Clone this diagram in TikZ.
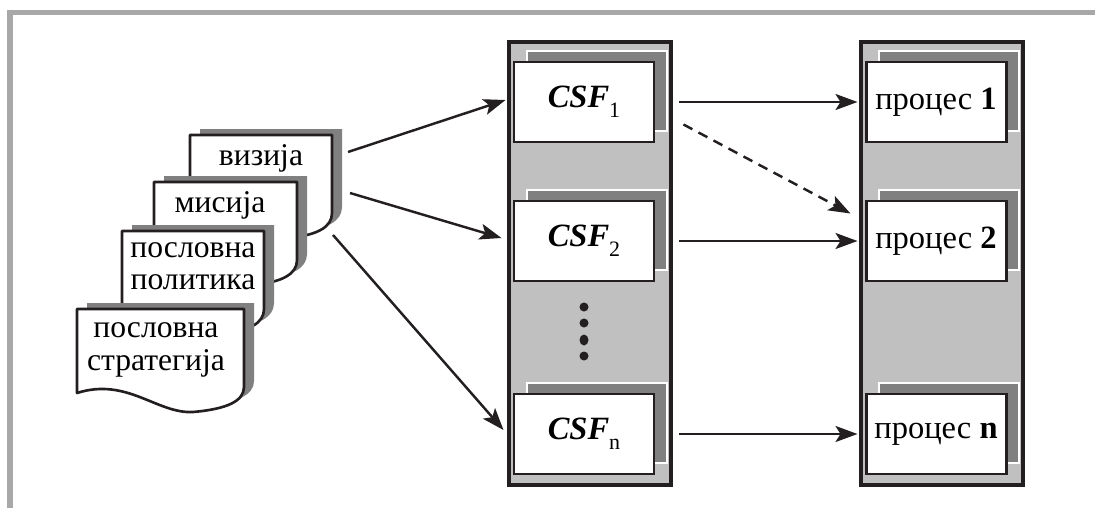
\documentclass[tikz,border=0pt]{standalone}
\usepackage{fontspec}
\setmainfont{Liberation Serif}
\usetikzlibrary{arrows.meta, positioning, shadows}
\definecolor{inkblack}{RGB}{35,31,32}
\definecolor{panelgray}{RGB}{192,192,192}
\definecolor{shadegray}{RGB}{128,128,128}
\definecolor{framegray}{RGB}{168,168,168}

% sheet of paper with a wavy lower edge: #1,#2 top left corner, #3 width
\newcommand{\docsheet}[3]{%
  \fill[shadegray, shift={(#1+0.2,#2+0.12)}, xscale=#3]
    (0,-1.68) .. controls (0.3,-1.36) and (0.48,-2.1) .. (0.695,-2.06)
    .. controls (0.9,-2.0) and (1,-1.84) .. (1,-1.56) -- (1,0) -- (0,0) -- cycle;
  \filldraw[fill=white, draw=inkblack, line width=1.5pt, line join=round, shift={(#1,#2)}, xscale=#3]
    (0,-1.68) .. controls (0.3,-1.36) and (0.48,-2.1) .. (0.695,-2.06)
    .. controls (0.9,-2.0) and (1,-1.84) .. (1,-1.56) -- (1,0) -- (0,0) -- cycle;
}
\newcommand{\csfname}[1]{\textbf{\textit{CSF}}\raisebox{-5.5pt}{\fontsize{12.5}{12.5}\selectfont #1}}

\tikzset{
  column/.style={draw=inkblack, fill=panelgray, line width=1.8pt, minimum width=3.24cm, minimum height=8.86cm, inner sep=0pt},
  box/.style={draw=inkblack, fill=white, line width=1.7pt, minimum width=2.8cm, minimum height=1.6cm, inner sep=0pt,
    copy shadow={shadow xshift=0.26cm, shadow yshift=0.22cm, fill=shadegray, draw=white, line width=0.8pt}},
  csfbox/.style={box, font=\fontsize{18.5}{20}\selectfont},
  procbox/.style={box, font=\fontsize{18.5}{20}\selectfont},
  doctext/.style={font=\fontsize{18}{18.5}\selectfont, align=center, inner sep=0pt},
  arr/.style={draw=inkblack, line width=1.4pt, -{Stealth[length=0.44cm, width=0.32cm, inset=0.1cm]}},
  dasharr/.style={arr, dash pattern=on 0.2cm off 0.14cm}
}

\begin{document}
\begin{tikzpicture}[scale=1.0]
        \useasboundingbox (0,0) rectangle (21.9,-10.16);

        % Frame
        \draw[framegray, line width=0.1cm] (0.2,-10.16) -- (0.2,-0.25) -- (21.9,-0.25);

        % Columns
        \node[column] (csfcol) at (11.8,-5.27) {};
        \node[column] (proccol) at (18.84,-5.27) {};

        % Critical success factors
        \node[csfbox] (csf1) at (11.68,-2.04) {\csfname{1}};
        \node[csfbox] (csf2) at (11.68,-4.82) {\csfname{2}};
        \node[csfbox] (csfn) at (11.68,-8.68) {\csfname{n}};

        % Dots
        \fill[inkblack] (11.68,-6.14) circle (0.09);
        \fill[inkblack] (11.68,-6.46) circle (0.09);
        \fill[inkblack] (11.68,-6.8) ellipse (0.09 and 0.11);
        \fill[inkblack] (11.68,-7.12) circle (0.09);

        % Processes
        \node[procbox] (proc1) at (18.72,-2.04) {процес \textbf{1}};
        \node[procbox] (proc2) at (18.72,-4.82) {процес \textbf{2}};
        \node[procbox] (procn) at (18.72,-8.68) {процес \textbf{n}};

        % Stack of documents
        \docsheet{3.8}{-2.7}{2.84}
        \node[doctext] (vizija) at (5.22,-3.16) {визија};
        \docsheet{3.08}{-3.64}{2.86}
        \node[doctext] (misija) at (4.4,-4.1) {мисија};
        \docsheet{2.44}{-4.62}{2.84}
        \node[doctext] (politika) at (3.86,-5.32) {пословна\\политика};
        \docsheet{1.54}{-6.18}{3.34}
        \node[doctext] (strategija) at (3.12,-7.0) {пословна\\стратегија};

        \coordinate (docout1) at (6.96,-3.04);
        \coordinate (docout2) at (7.0,-3.86);
        \coordinate (docout3) at (6.66,-4.7);

        % Documents to CSF
        \draw[arr] (docout1) -- ([xshift=-0.14cm, yshift=0.04cm]csf1.west);
        \draw[arr] (docout2) -- ([xshift=-0.22cm, yshift=0.06cm]csf2.west);
        \draw[arr] (docout3) -- ([xshift=-0.18cm, yshift=0.08cm]csfn.west);

        % CSF to processes
        \draw[arr, shorten <=0.48cm, shorten >=0.14cm] (csf1.east) -- (proc1.west);
        \draw[arr, shorten <=0.48cm, shorten >=0.14cm] (csf2.east) -- (proc2.west);
        \draw[arr, shorten <=0.48cm, shorten >=0.14cm] (csfn.east) -- (procn.west);
        \draw[dasharr] ([xshift=0.56cm, yshift=0.38cm]csf1.south east) -- ([xshift=-0.28cm, yshift=-0.28cm]proc2.north west);
\end{tikzpicture}
\end{document}
